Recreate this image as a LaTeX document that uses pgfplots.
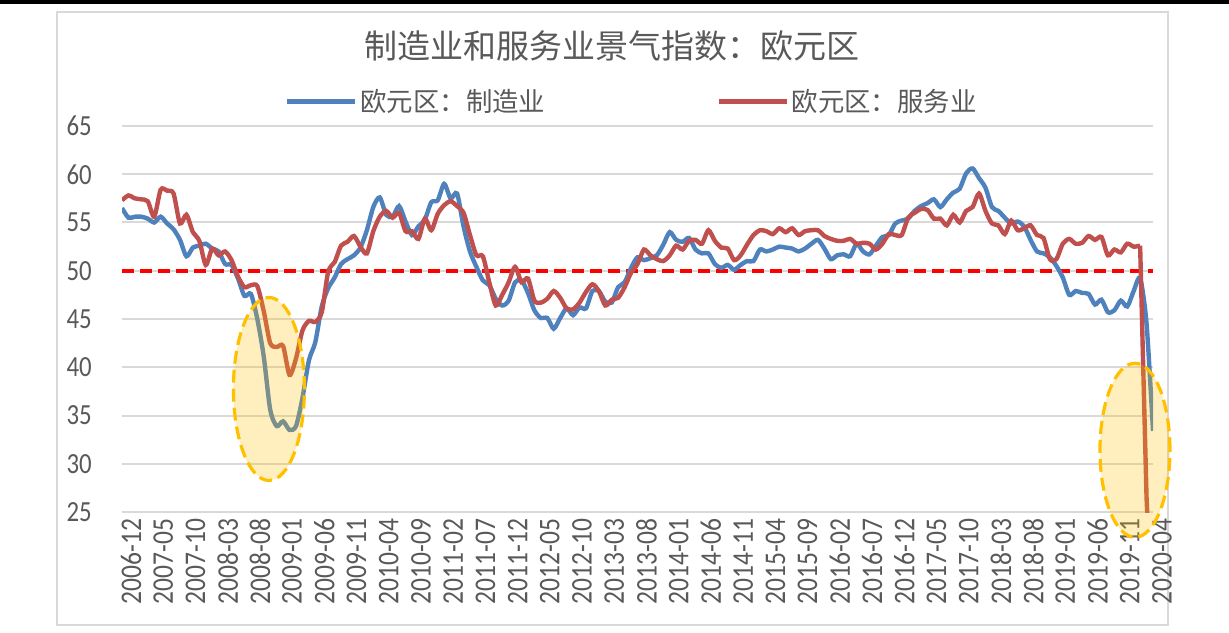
\documentclass[border=0pt]{standalone}
\usepackage{pgfplots}
\pgfplotsset{compat=1.18}
\usepackage{pgfplotstable}
\usepackage{fontspec}
\setmainfont{Carlito}
\newfontfamily\tickfont[FakeStretch=0.85]{Carlito}
\newfontfamily\cjk{Noto Sans CJK SC}
\definecolor{mfg}{HTML}{4F81BD}
\definecolor{svc}{HTML}{C0504D}
\definecolor{gridc}{HTML}{D9D9D9}
\definecolor{txt}{HTML}{595959}
\definecolor{gold}{HTML}{FFC000}

% eurozone PMI, monthly 2006-12 .. 2020-04 (m = manufacturing, s = services)
\pgfplotstableread{
m s
56.5 57.3
55.5 57.8
55.6 57.5
55.6 57.4
55.4 57.2
55.0 55.6
55.6 58.4
54.9 58.3
54.3 58.0
53.2 54.9
51.5 55.8
52.4 54.0
52.6 53.1
52.8 50.6
52.3 52.3
52.0 51.6
50.7 52.0
50.6 51.1
49.2 49.4
47.4 48.3
47.6 48.5
45.0 48.4
41.1 45.8
35.6 42.5
33.9 42.1
34.4 42.2
33.5 39.2
33.9 40.9
36.8 43.8
40.7 44.8
42.6 44.7
46.3 45.7
48.2 49.9
49.3 50.9
50.7 52.6
51.2 53.0
51.6 53.6
52.4 52.5
54.2 51.8
56.6 54.1
57.6 55.6
55.8 56.2
55.6 55.5
56.7 56.0
55.1 54.1
53.7 54.1
54.6 53.3
55.3 55.4
57.1 54.2
57.3 55.9
59.0 56.8
57.5 57.2
58.0 56.7
54.6 56.0
52.0 53.7
50.4 51.6
49.0 51.5
48.5 48.8
47.1 46.4
46.4 47.5
46.9 48.8
48.8 50.4
49.0 48.8
47.7 49.2
45.9 46.9
45.1 46.7
45.1 47.1
44.0 47.9
45.1 47.2
46.1 46.1
45.4 46.0
46.2 46.7
46.1 47.8
47.9 48.6
47.9 47.9
46.8 46.4
46.7 47.0
48.3 47.2
48.8 48.3
50.3 49.8
51.4 50.7
51.1 52.2
51.3 51.6
51.6 51.2
52.7 51.0
54.0 51.6
53.2 52.6
53.0 52.2
53.4 53.1
52.2 53.2
51.8 52.8
51.8 54.2
50.7 53.1
50.3 52.4
50.6 52.3
50.1 51.1
50.6 51.6
51.0 52.7
51.0 53.7
52.2 54.2
52.0 54.1
52.2 53.8
52.5 54.4
52.4 54.0
52.3 54.4
52.0 53.7
52.3 54.1
52.8 54.2
53.2 54.2
52.3 53.6
51.2 53.3
51.6 53.1
51.7 53.1
51.5 53.3
52.8 52.8
52.0 52.9
51.7 52.8
52.6 52.2
53.5 52.8
53.7 53.8
54.9 53.7
55.2 53.7
55.4 55.5
56.2 56.0
56.7 56.4
57.0 56.3
57.4 55.4
56.6 55.4
57.4 54.7
58.1 55.8
58.5 55.0
60.1 56.2
60.6 56.6
59.6 58.0
58.6 56.2
56.6 54.9
56.2 54.7
55.5 53.8
54.9 55.2
55.1 54.2
54.6 54.4
53.2 54.7
52.0 53.7
51.8 53.4
51.4 51.2
50.5 51.2
49.3 52.8
47.5 53.3
47.9 52.8
47.7 52.9
47.6 53.6
46.5 53.2
47.0 53.5
45.7 51.6
45.9 52.2
46.9 51.9
46.3 52.8
47.9 52.5
49.2 52.6
44.5 26.4
33.4 12.0
}\pmi

\begin{document}
\begin{tikzpicture}[x=0.5pt,y=0.5pt]
\path[use as bounding box] (0,0) rectangle (1229,632);
\fill[black] (0,628) rectangle (1229,632);
\draw[gridc, line width=0.8pt] (57,7) rectangle (1168,620);
\node[text=txt, font=\cjk\fontsize{16.5}{18}\selectfont] at (612,586) {制造业和服务业景气指数：欧元区};
\begin{axis}[
  at={(61pt,60pt)}, anchor=south west,
  scale only axis, width=515.5pt, height=193pt,
  xmin=0, xmax=160, ymin=25, ymax=65,
  xtick={0,5,...,160},
  xticklabels={2006-12,2007-05,2007-10,2008-03,2008-08,2009-01,2009-06,2009-11,
    2010-04,2010-09,2011-02,2011-07,2011-12,2012-05,2012-10,2013-03,2013-08,
    2014-01,2014-06,2014-11,2015-04,2015-09,2016-02,2016-07,2016-12,2017-05,
    2017-10,2018-03,2018-08,2019-01,2019-06,2019-11,2020-04},
  ytick={25,30,...,65},
  /pgf/number format/assume math mode=true,
  ymajorgrids, grid style={gridc, line width=1pt},
  axis line style={draw=none},
  major tick length=0pt, tick style={draw=none},
  yticklabel style={font=\tickfont\fontsize{14.6}{16}\selectfont, text=txt, xshift=-11.6pt},
  xticklabel style={rotate=90, anchor=east, font=\tickfont\fontsize{15}{16}\selectfont, text=txt, yshift=-4.5pt},
  legend style={at={(axis description cs:0.152,1.0635)}, anchor=west,
    legend columns=2, draw=none, fill=none, text=txt,
    font=\cjk\fontsize{13.2}{15}\selectfont, nodes={inner sep=1.5pt}},
  legend image code/.code={\draw[#1, line width=2.2pt] (0pt,0pt) -- (34pt,0pt);},
]
\addplot [forget plot, red, line width=2pt, dash pattern=on 6pt off 3pt]
  coordinates {(0,50) (160,50)};
\addplot [mfg, line width=2.2pt, smooth, tension=0.45] table [x expr=\coordindex, y=m] {\pmi};
\addlegendentry{欧元区：制造业\hspace{84pt}\mbox{}}
\addplot [svc, line width=2.2pt, smooth, tension=0.45, restrict x to domain=0:158]
  table [x expr=\coordindex, y=s] {\pmi};
\addlegendentry{欧元区：服务业}
\addplot [forget plot, svc, line width=2.2pt, line join=round, restrict x to domain=158:160]
  table [x expr=\coordindex, y=s] {\pmi};
\coordinate (e1) at (axis cs:22.8,37.75);
\coordinate (e2) at (axis cs:157.2,31.4);
\end{axis}
\draw[gold, line width=1.6pt, dash pattern=on 6.5pt off 3pt, fill=gold, fill opacity=0.25]
  (e1) ellipse [x radius=17.75pt, y radius=45.75pt];
\draw[gold, line width=1.6pt, dash pattern=on 6.5pt off 3pt, fill=gold, fill opacity=0.25]
  (e2) ellipse [x radius=17.5pt, y radius=43.5pt];
\end{tikzpicture}
\end{document}
